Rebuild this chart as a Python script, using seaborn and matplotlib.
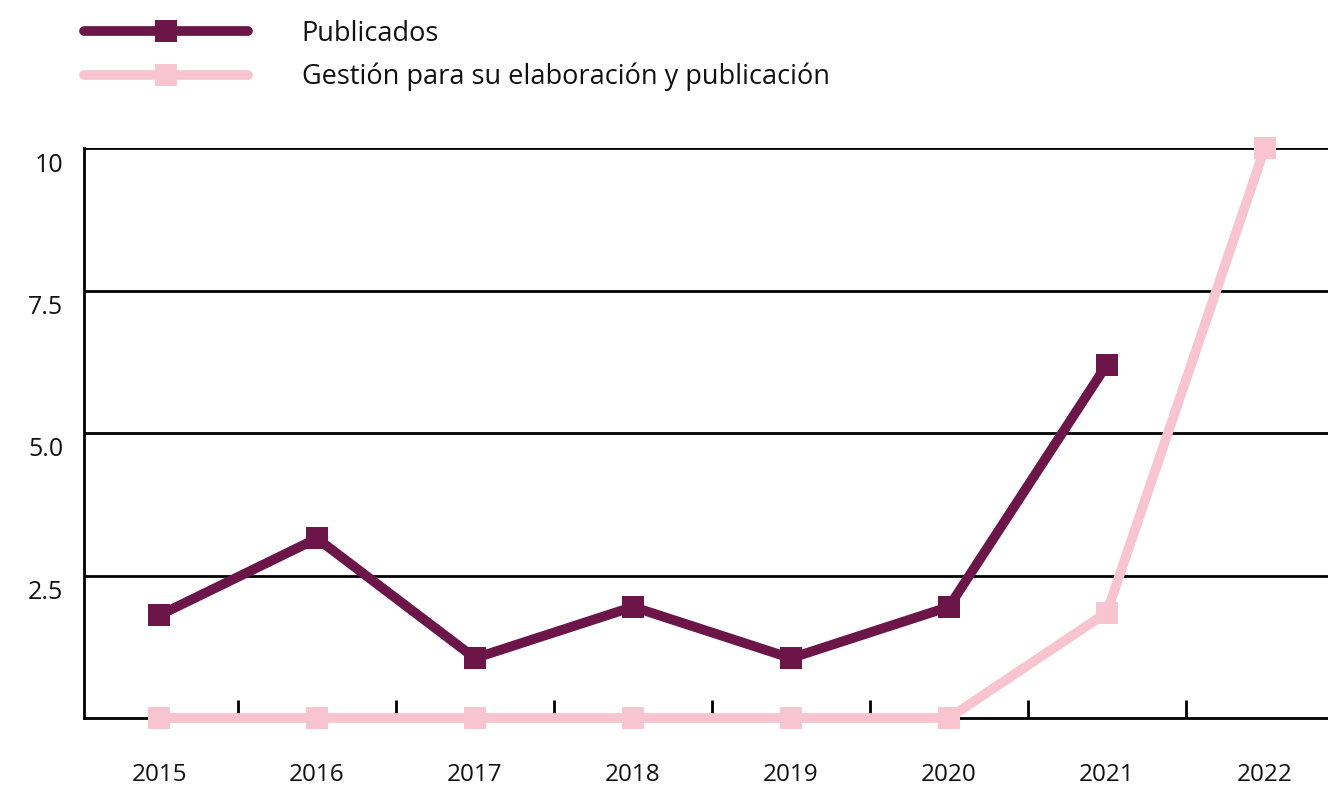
import pandas as pd
import numpy as np
import matplotlib
matplotlib.use("Agg")
import matplotlib.pyplot as plt
import matplotlib.transforms as mtransforms
import seaborn as sns

# datos
anios = [2015, 2016, 2017, 2018, 2019, 2020, 2021, 2022]
publicados = [1.8, 3.15, 1.05, 1.95, 1.05, 1.95, 6.2, np.nan]
gestion = [0, 0, 0, 0, 0, 0, 1.85, 10]
series = ["Publicados", "Gestión para su elaboración y publicación"]
colores = ["#6b1548", "#f8c4d0"]
yticks = [2.5, 5.0, 7.5, 10]
ytick_labels = ["2.5", "5.0", "7.5", "10"]

df = pd.DataFrame({"anio": anios * 2,
                   "valor": publicados + gestion,
                   "serie": [series[0]] * 8 + [series[1]] * 8})

sns.set_style("white")
plt.rcParams["font.family"] = ["Open Sans", "DejaVu Sans"]

fig = plt.figure(figsize=(13.28, 7.87), dpi=100)
ax = fig.add_axes([84 / 1328, 69 / 787, 1 - 84 / 1328, (718 - 148) / 787])

sns.lineplot(data=df, x="anio", y="valor", hue="serie", style="serie",
             hue_order=series, style_order=series, palette=colores,
             markers=["s", "s"], dashes=False, linewidth=7, markersize=15.5,
             markeredgewidth=0, legend=False, ax=ax, zorder=3)
for ln in ax.lines:
    ln.set_clip_on(False)

ax.set_xlim(anios[0] - 0.475, anios[-1] + 0.40)
ax.set_ylim(0, 10)

# gridlines horizontales
for y in yticks:
    ax.axhline(y, color="black", lw=2, zorder=1)

ax.set_yticks([])
ax.set_ylabel("")
ax.set_xlabel("")
for sp in ["top", "right"]:
    ax.spines[sp].set_visible(False)
for sp in ["left", "bottom"]:
    ax.spines[sp].set_color("black")
    ax.spines[sp].set_linewidth(2)
    ax.spines[sp].set_zorder(1)

# etiquetas y, debajo de cada linea
off = mtransforms.ScaledTranslation(-21 / 100, -17 / 100, fig.dpi_scale_trans)
tr = mtransforms.blended_transform_factory(ax.transAxes, ax.transData) + off
for y, lab in zip(yticks, ytick_labels):
    ax.text(0, y, lab, transform=tr, ha="right", va="center", fontsize=18, color="#111111")

ax.set_xticks(anios)
ax.set_xticklabels([str(a) for a in anios], fontsize=17.5, color="#111111")
ax.tick_params(axis="x", which="major", bottom=True, length=0, pad=32.5)
ax.set_xticks([a + 0.5 for a in anios[:-1]], minor=True)
ax.tick_params(axis="x", which="minor", bottom=True, direction="in", length=13, width=2, color="black")

# leyenda
handles = ax.lines[:2]
leg = fig.legend(handles, series, loc="upper left", bbox_to_anchor=(73 / 1328, 1 - 9 / 787),
                 frameon=False, fontsize=19.5, handlelength=6.05, handletextpad=2.0,
                 labelspacing=0.55, numpoints=1, borderaxespad=0)
for ln in leg.get_lines():
    ln.set_solid_capstyle("round")
for t in leg.get_texts():
    t.set_color("#111111")

fig.savefig("out.png", dpi=100)
